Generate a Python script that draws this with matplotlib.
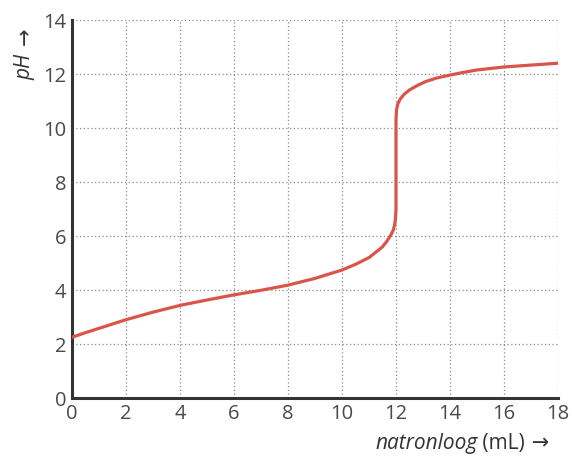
import matplotlib
matplotlib.use("Agg")
import matplotlib.pyplot as plt

# Data
volume_ml = [0, 0.5, 1, 2, 3, 4, 5, 6, 7, 8, 9, 10, 10.5, 11, 11.33, 11.5, 11.65,
             11.8, 11.9, 11.95, 11.98, 12.0, 12.0, 12.0, 12.02, 12.07, 12.15, 12.3,
             12.5, 12.8, 13.1, 13.5, 14, 14.5, 15, 16, 17, 18]
ph_values = [2.25, 2.42, 2.58, 2.9, 3.18, 3.43, 3.63, 3.82, 3.99, 4.18, 4.43, 4.74,
             4.95, 5.2, 5.46, 5.6, 5.79, 6.02, 6.22, 6.42, 6.65, 7.0, 8.5, 10.3,
             10.68, 10.9, 11.06, 11.25, 11.41, 11.58, 11.72, 11.85, 11.96, 12.06,
             12.15, 12.26, 12.33, 12.4]
x_ticks = [0, 2, 4, 6, 8, 10, 12, 14, 16, 18]
y_ticks = [0, 2, 4, 6, 8, 10, 12, 14]

plt.rcParams['font.family'] = ['Open Sans', 'DejaVu Sans']

fig = plt.figure(figsize=(5.72, 4.57), dpi=100)
ax = fig.add_axes([72/572, 59/457, (558-72)/572, (398-20)/457])

ax.plot(volume_ml, ph_values, color='#d9554a', lw=2.3, solid_capstyle='round',
        solid_joinstyle='round', zorder=3)

ax.set_xlim(0, 18)
ax.set_ylim(0, 14)
ax.set_xticks(x_ticks)
ax.set_yticks(y_ticks)
ax.grid(True, linestyle=(0, (1, 2)), color='#8a8a8a', lw=0.9)
ax.set_axisbelow(True)

for s in ['top', 'right']:
    ax.spines[s].set_visible(False)
for s in ['left', 'bottom']:
    ax.spines[s].set_color('#333333')
    ax.spines[s].set_linewidth(2.2)

ax.tick_params(length=0, labelsize=14.5, labelcolor='#4a4a4a', pad=4)
for lbl in ax.get_xticklabels() + ax.get_yticklabels():
    lbl.set_clip_on(False)

# y label: italic pH + arrow, rotated
fig.text(25/572, 1 - 80/457, 'pH', rotation=90, ha='center', va='bottom',
         fontsize=15, style='italic', color='#333333')
fig.text(25/572, 1 - 45/457, '→', rotation=90, ha='center', va='bottom',
         fontsize=15, family=['DejaVu Sans'], color='#333333')

# x label: italic natronloog + (mL) + arrow
t2 = fig.text(375/572, 1 - 443/457, 'natronloog', ha='left', va='center',
              fontsize=15, style='italic', color='#333333')
t3 = ax.annotate(' (mL)', xy=(1, 0.5), xycoords=t2, ha='left', va='center',
                 fontsize=15, color='#333333', annotation_clip=False)
ax.annotate(' →', xy=(1, 0.5), xycoords=t3, ha='left', va='center',
            fontsize=15, family=['DejaVu Sans'], color='#333333',
            annotation_clip=False)

fig.savefig('out.png', dpi=100)
